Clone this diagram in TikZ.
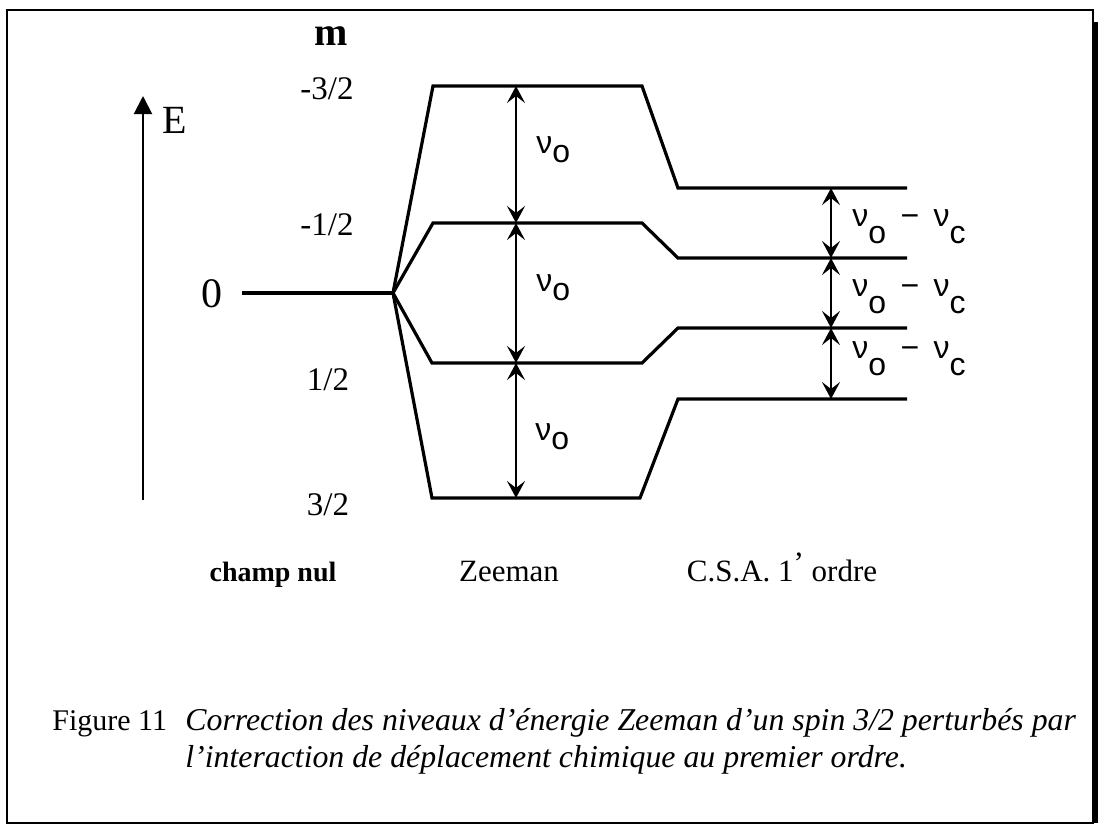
\documentclass[tikz,border=0pt]{standalone}
\usepackage{fontspec}
\setmainfont{Liberation Serif}
\newfontfamily\nufont{Liberation Sans}
\usepackage{tikz}
\usetikzlibrary{arrows.meta}

\newcommand{\nuo}{{\nufont ν\raisebox{-0.3em}{o}}}
\newcommand{\nudiff}{{\nufont ν\raisebox{-0.55em}{o}\hspace{0.45em}−\hspace{0.45em}ν\raisebox{-0.55em}{c}}}

\begin{document}
\begin{tikzpicture}[x=0.5pt, y=-0.5pt,
  level/.style={line width=1.6pt, line join=miter},
  gap/.style={line width=1pt, {Stealth[length=8.5pt,width=9pt,inset=3.5pt]}-{Stealth[length=8.5pt,width=9pt,inset=3.5pt]}},
  mval/.style={font=\fontsize{16.5}{18}\selectfont},
  nulabel/.style={anchor=base west, font=\fontsize{16}{18}\selectfont, inner sep=0pt},
  stage/.style={anchor=base, font=\fontsize{15.5}{18}\selectfont}
]
\useasboundingbox (0,0) rectangle (1100,826);

% frame
\draw[line width=1.2pt] (7,10) rectangle (1093,823);
\draw[line width=3pt] (1095,22) -- (1095,823);

% energy axis
\coordinate (ebot) at (143,500);
\coordinate (etop) at (143,96);
\draw[line width=1pt, -{Triangle[length=9pt,width=9pt]}] (ebot) -- (etop);
\node[font=\fontsize{20}{22}\selectfont] (e) at (175,120) {E};

% m values
\node[font=\bfseries\fontsize{20}{22}\selectfont] (m) at (331,36) {m};
\node[mval] (m1) at (327,89) {-3/2};
\node[mval] (m2) at (327,225) {-1/2};
\node[font=\fontsize{21}{23}\selectfont] (m0) at (212,294) {0};
\node[mval] (m3) at (328,380) {1/2};
\node[mval] (m4) at (328,505) {3/2};

% zero field and Zeeman levels
\coordinate (zl) at (242,293);
\coordinate (v) at (393,293);
\coordinate (z1l) at (433,86);  \coordinate (z1r) at (642,86);
\coordinate (z2l) at (433,223); \coordinate (z2r) at (642,223);
\coordinate (z3l) at (432,363); \coordinate (z3r) at (642,363);
\coordinate (z4l) at (432,498); \coordinate (z4r) at (640,498);

% C.S.A. levels
\coordinate (c1l) at (678,188); \coordinate (c1r) at (907,188);
\coordinate (c2l) at (678,258); \coordinate (c2r) at (907,258);
\coordinate (c3l) at (678,328); \coordinate (c3r) at (907,328);
\coordinate (c4l) at (678,399); \coordinate (c4r) at (907,399);

\draw[level] (zl) -- (v);
\draw[level] (v) -- (z1l) -- (z1r) -- (c1l) -- (c1r);
\draw[level] (v) -- (z2l) -- (z2r) -- (c2l) -- (c2r);
\draw[level] (v) -- (z3l) -- (z3r) -- (c3l) -- (c3r);
\draw[level] (v) -- (z4l) -- (z4r) -- (c4l) -- (c4r);

% Zeeman gaps
\coordinate (za1) at (516,86);
\coordinate (za2) at (516,223);
\coordinate (za3) at (516,363);
\coordinate (za4) at (516,498);
\draw[gap] (za1) -- (za2);
\draw[gap] (za2) -- (za3);
\draw[gap] (za3) -- (za4);
\node[nulabel] (n1) at (536,153) {\nuo};
\node[nulabel] (n2) at (536,291) {\nuo};
\node[nulabel] (n3) at (535,440) {\nuo};

% C.S.A. gaps
\coordinate (ca1) at (831,188);
\coordinate (ca2) at (831,258);
\coordinate (ca3) at (831,328);
\coordinate (ca4) at (831,399);
\draw[gap] (ca1) -- (ca2);
\draw[gap] (ca2) -- (ca3);
\draw[gap] (ca3) -- (ca4);
\node[nulabel] (d1) at (852,226) {\nudiff};
\node[nulabel] (d2) at (852,296) {\nudiff};
\node[nulabel] (d3) at (852,358) {\nudiff};

% stages
\node[stage, font=\bfseries\fontsize{14}{16}\selectfont] (s0) at (273,581) {champ nul};
\node[stage] (s1) at (509,581) {Zeeman};
\node[stage] (s2) at (782,581) {C.S.A. 1\raisebox{0.5ex}{’} ordre};

% caption
\node[anchor=base west, inner sep=0pt, font=\fontsize{15}{18}\selectfont] (fig) at (52,730) {Figure 11};
\node[anchor=base west, inner sep=0pt, font=\itshape\fontsize{15.9}{18}\selectfont] (cap1) at (185,730)
  {Correction des niveaux d'énergie Zeeman d'un spin 3/2 perturbés par};
\node[anchor=base west, inner sep=0pt, font=\itshape\fontsize{15.9}{18}\selectfont] (cap2) at (185,767)
  {l'interaction de déplacement chimique au premier ordre.};
\end{tikzpicture}
\end{document}
